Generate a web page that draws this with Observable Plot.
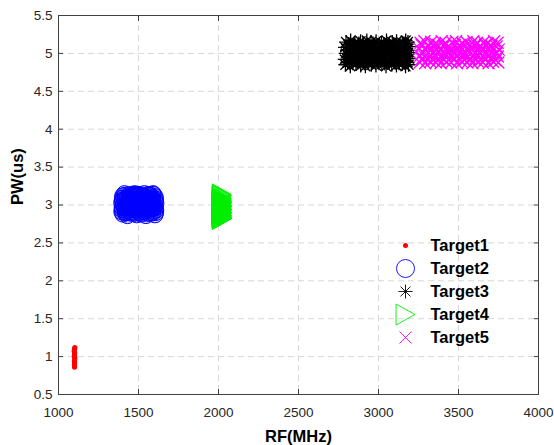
<!DOCTYPE html>
<html><head><meta charset="utf-8">
<script src="https://cdn.jsdelivr.net/npm/d3@7"></script>
<script src="https://cdn.jsdelivr.net/npm/@observablehq/plot@0.6"></script>
<style>
body{margin:0;background:#fff;}
#wrap{position:relative;width:554px;height:445px;}
#legend{position:absolute;left:390px;top:232px;}
</style></head>
<body><div id="wrap"><div id="chart"></div><div id="legend"></div></div>
<script>
const names = ["Target1","Target2","Target3","Target4","Target5"];
const colors = ["#ff0000","#0000ff","#000000","#00ee00","#ff00ff"];
const xTicks = [1000,1500,2000,2500,3000,3500,4000];
const yTicks = [0.5,1,1.5,2,2.5,3,3.5,4,4.5,5,5.5];

const t1x = [1100,1099,1101,1100,1102,1098,1100,1101,1099,1100,1102,1100,1099,1101,1100,1098,1100,1101];
const t1y = [0.86,0.89,0.92,0.95,0.97,1.00,1.02,1.05,1.08,1.10,1.12,0.88,0.94,0.99,1.04,1.07,0.91,1.11];

const t2x = [1402,1431,1458,1489,1517,1546,1574,1603,1397,1428,1463,1491,1522,1549,1579,1608,1404,1433,1461,1486,1519,1552,1576,1601,1399,1436,1457,1493,1515,1544,1581,1606,1401,1429,1466,1488,1524,1547,1573,1604,1412,1445,1477,1503,1536,1562,1591,1415,1472,1531,1588,1444,1507,1566,1420,1539,1483,1597,1452,
  1416,1447,1473,1504,1533,1559,1589,1413,1444,1476,1501,1530,1563,1592,1418,1446,1472,1506,1534,1560,1587,1414,1443,1478,1502,1531,1564,1590,1417,1449,1471,1505,1529,1561,1593,1396,1398,1395,1400,1607,1605,1609,1606];
const t2y = [2.88,2.86,2.89,2.87,2.88,2.86,2.89,2.87,2.94,2.92,2.95,2.93,2.94,2.92,2.95,2.93,3.00,2.98,3.01,2.99,3.00,2.98,3.01,2.99,3.06,3.04,3.07,3.05,3.06,3.04,3.07,3.05,3.12,3.10,3.13,3.11,3.12,3.10,3.13,3.11,3.15,3.14,3.15,3.14,3.15,3.14,3.15,2.97,3.03,2.91,3.09,3.08,2.96,3.02,2.90,3.08,2.93,2.96,3.12,
  2.90,2.91,2.89,2.90,2.91,2.89,2.90,2.96,2.97,2.95,2.97,2.96,2.95,2.97,3.02,3.03,3.01,3.02,3.03,3.02,3.01,3.08,3.09,3.07,3.08,3.09,3.08,3.07,3.13,3.12,3.14,3.13,3.12,3.13,3.14,2.91,2.97,3.03,3.09,2.90,2.96,3.02,3.08];

const t3x = [2793,2824,2859,2889,2918,2955,2984,3021,3047,3083,3112,3148,3169,3188,2789,2827,2855,2891,2923,2951,2988,3016,3052,3079,3117,3143,3174,3191,2795,2822,2861,2886,2925,2949,2983,3023,3046,3085,3110,3151,3167,3186,2791,2829,2857,2893,2919,2957,2990,3014,3054,3081,3115,3146,3172,3189,2797,2826,2853,2888,2927,2953,2985,3019,3050,3086,3113,3149,3170,3184,2808,2842,2874,2905,2938,2969,3003,3036,3066,3098,3131,3160,2812,2871,2940,3002,3070,3128,3178,2846,
  2806,2839,2872,2907,2935,2971,3001,3037,3064,3101,3129,3162,3181,2810,2844,2876,2903,2941,2967,3005,3033,3069,3096,3133,3158,3177,2804,2838,2870,2908,2936,2972,3000,3039,3063,3100,3127,3163,3182,2811,2841,2877,2902,2939,2966,3006,3034,3068,3097,3134,3159,3176];
const t3y = [4.85,4.83,4.86,4.84,4.83,4.85,4.84,4.86,4.83,4.85,4.84,4.86,4.83,4.85,4.92,4.91,4.93,4.92,4.90,4.93,4.91,4.92,4.90,4.93,4.91,4.92,4.90,4.93,5.00,4.99,5.01,5.00,4.98,5.01,4.99,5.00,5.02,4.99,5.01,5.00,4.98,5.01,5.08,5.07,5.09,5.08,5.06,5.09,5.07,5.08,5.10,5.07,5.09,5.08,5.06,5.09,5.15,5.17,5.14,5.16,5.17,5.15,5.16,5.14,5.17,5.15,5.16,5.14,5.17,5.15,4.88,4.96,5.04,5.12,4.88,4.96,5.04,5.12,4.88,4.96,5.04,5.12,5.12,4.88,5.04,4.96,5.04,4.88,4.96,5.12,
  4.88,4.87,4.89,4.88,4.87,4.89,4.88,4.87,4.89,4.88,4.87,4.89,4.88,4.96,4.97,4.95,4.96,4.97,4.95,4.96,4.97,4.95,4.96,4.97,4.95,4.96,5.04,5.05,5.03,5.04,5.05,5.03,5.04,5.05,5.03,5.04,5.05,5.03,5.04,5.12,5.11,5.13,5.12,5.11,5.13,5.12,5.11,5.13,5.12,5.11,5.13,5.12];

const t4x = [2021,2019,2022,2020,2023,2018,2021,2020,2022,2019,2021,2023,2020,2022,2019,2021,2020,2024,2018,2022,2020,2021,
  2020,2022,2019,2021,2023,2020,2018,2022,2021,2019,2020,2022,2021,2023,2019,2020,2021,2022,2018,2020,2021,2019,2022,2020,2021];
const t4y = [2.82,2.84,2.86,2.88,2.90,2.92,2.94,2.96,2.98,3.00,3.02,3.04,3.06,3.08,3.10,3.12,3.14,2.83,2.91,2.99,3.07,3.13,
  2.815,2.825,2.835,2.845,2.855,2.865,2.875,2.885,2.895,2.905,2.915,2.925,2.935,2.945,2.955,2.965,2.975,2.985,2.995,3.005,3.015,3.025,3.035,3.045,3.055];

const t5x = [3258,3292,3324,3359,3388,3425,3455,3491,3520,3556,3587,3622,3651,3688,3716,3749,3261,3289,3327,3355,3393,3421,3458,3487,3525,3552,3591,3618,3656,3684,3721,3746,3256,3294,3322,3361,3386,3427,3453,3494,3518,3559,3585,3625,3649,3691,3713,3751,3263,3287,3329,3353,3395,3419,3460,3485,3527,3550,3593,3616,3658,3682,3723,3744,3275,3341,3408,3472,3538,3604,3669,3735,3308,3374,3441,3506,3571,3637,3702,
  3272,3306,3343,3376,3405,3439,3475,3508,3537,3573,3602,3639,3667,3704,3733,3277,3310,3339,3372,3410,3443,3470,3504,3541,3569,3606,3635,3672,3700,3737,3270,3312,3345,3371,3412,3438,3476,3503,3542,3574,3601,3640,3666,3706,3738];
const t5y = [4.88,4.87,4.89,4.88,4.87,4.89,4.88,4.87,4.89,4.88,4.87,4.89,4.88,4.87,4.89,4.88,4.97,4.96,4.98,4.97,4.95,4.98,4.96,4.97,4.98,4.95,4.97,4.98,4.96,4.97,4.98,4.96,5.06,5.05,5.07,5.06,5.04,5.07,5.05,5.06,5.07,5.04,5.06,5.07,5.05,5.06,5.07,5.05,5.14,5.16,5.15,5.13,5.16,5.14,5.15,5.16,5.13,5.15,5.16,5.14,5.15,5.13,5.16,5.14,4.92,5.01,5.10,4.92,5.01,5.10,4.92,5.01,5.10,4.92,5.01,5.10,4.92,5.01,5.10,
  4.93,4.92,4.91,4.93,4.92,4.91,4.93,4.92,4.91,4.93,4.92,4.91,4.93,4.92,4.91,5.02,5.01,5.00,5.02,5.01,5.00,5.02,5.01,5.00,5.02,5.01,5.00,5.02,5.01,5.00,5.11,5.10,5.09,5.11,5.10,5.09,5.11,5.10,5.09,5.11,5.10,5.09,5.11,5.10,5.09];

// custom MATLAB-like symbols
const asterisk8 = {draw(ctx, size){ const r = Math.sqrt(size/Math.PI), d = r*Math.SQRT1_2;
  ctx.moveTo(-r,0);ctx.lineTo(r,0);ctx.moveTo(0,-r);ctx.lineTo(0,r);
  ctx.moveTo(-d,-d);ctx.lineTo(d,d);ctx.moveTo(-d,d);ctx.lineTo(d,-d);}};
const timesSym = {draw(ctx, size){ const r = Math.sqrt(size/Math.PI);
  ctx.moveTo(-r,-r);ctx.lineTo(r,r);ctx.moveTo(-r,r);ctx.lineTo(r,-r);}};
const triRight = {draw(ctx, size){ const r = Math.sqrt(size/Math.PI);
  ctx.moveTo(-r*0.9,-r);ctx.lineTo(r*0.9,0);ctx.lineTo(-r*0.9,r);ctx.closePath();}};

const zip = (xs, ys) => xs.map((x,i)=>({x, y: ys[i]}));
const series = [
  {data: zip(t1x,t1y), symbol:"circle", r:2.5, fill:colors[0], fo:1, stroke:"none", sw:0},
  {data: zip(t2x,t2y), symbol:"circle", r:8, fill:colors[1], fo:0.22, stroke:colors[1], sw:1},
  {data: zip(t3x,t3y), symbol:asterisk8, r:7, fill:"none", fo:1, stroke:colors[2], sw:1.3},
  {data: zip(t4x,t4y), symbol:triRight, r:10.5, fill:colors[3], fo:0.25, stroke:colors[3], sw:1},
  {data: zip(t5x,t5y), symbol:timesSym, r:6, fill:"none", fo:1, stroke:colors[4], sw:1.3}
];

const font = "'Liberation Sans', Arial, Helvetica, sans-serif";
const axisColor = "#404040";
const blank = () => "";

const chart = Plot.plot({
  width: 554, height: 445,
  marginLeft: 58, marginRight: 16, marginTop: 15, marginBottom: 51,
  style: {fontFamily: font, fontSize: "13.5px", color: "#262626", background: "#fff"},
  x: {domain: [1000, 4000]},
  y: {domain: [0.5, 5.5]},
  marks: [
    Plot.gridX(xTicks, {stroke: "#d8d8d8", strokeOpacity: 1, strokeDasharray: "6,4"}),
    Plot.gridY(yTicks, {stroke: "#d8d8d8", strokeOpacity: 1, strokeDasharray: "6,4"}),
    ...series.map(s => Plot.dot(s.data, {x: "x", y: "y", symbol: () => s.symbol, r: s.r,
       fill: s.fill, fillOpacity: s.fo, stroke: s.stroke, strokeWidth: s.sw})),
    Plot.frame({stroke: axisColor, strokeWidth: 1}),
    Plot.axisX(xTicks, {anchor: "bottom", tickSize: 0, tickPadding: 13, tickFormat: d => String(d), label: null, fill: "#262626"}),
    Plot.axisY(yTicks, {anchor: "left", tickSize: 0, tickPadding: 6, tickFormat: d => String(d), label: null, fill: "#262626"}),
    Plot.axisX(xTicks, {anchor: "bottom", tickSize: -5, tickFormat: blank, label: null, stroke: axisColor}),
    Plot.axisX(xTicks, {anchor: "top", tickSize: -5, tickFormat: blank, label: null, stroke: axisColor}),
    Plot.axisY(yTicks, {anchor: "left", tickSize: -5, tickFormat: blank, label: null, stroke: axisColor}),
    Plot.axisY(yTicks, {anchor: "right", tickSize: -5, tickFormat: blank, label: null, stroke: axisColor}),
    Plot.text(["RF(MHz)"], {frameAnchor: "bottom", dy: 42, lineAnchor: "middle", fontWeight: "bold", fontSize: 16.5, fill: "#000", text: d => d}),
    Plot.text(["PW(us)"], {frameAnchor: "left", dx: -41, rotate: -90, lineAnchor: "middle", fontWeight: "bold", fontSize: 16.5, fill: "#000", text: d => d})
  ]
});
document.getElementById("chart").appendChild(chart);

const legend = Plot.plot({
  width: 150, height: 118, margin: 0, marginTop: 12, marginBottom: 12,
  style: {fontFamily: font, background: "transparent"},
  x: {axis: null}, y: {type: "point", domain: names, axis: null, padding: 0},
  marks: [
    ...series.map((s, i) => Plot.dot([names[i]], {y: d => d, frameAnchor: "left", dx: 15, symbol: () => s.symbol,
       r: i === 1 ? 9 : s.r, fill: (i === 0 ? s.fill : "none"), stroke: s.stroke, strokeWidth: 0.9})),
    Plot.text(names, {y: d => d, text: d => d, frameAnchor: "left", dx: 40, textAnchor: "start",
       fontWeight: "bold", fontSize: 16.5, fill: "#000"})
  ]
});
document.getElementById("legend").appendChild(legend);
</script></body></html>
